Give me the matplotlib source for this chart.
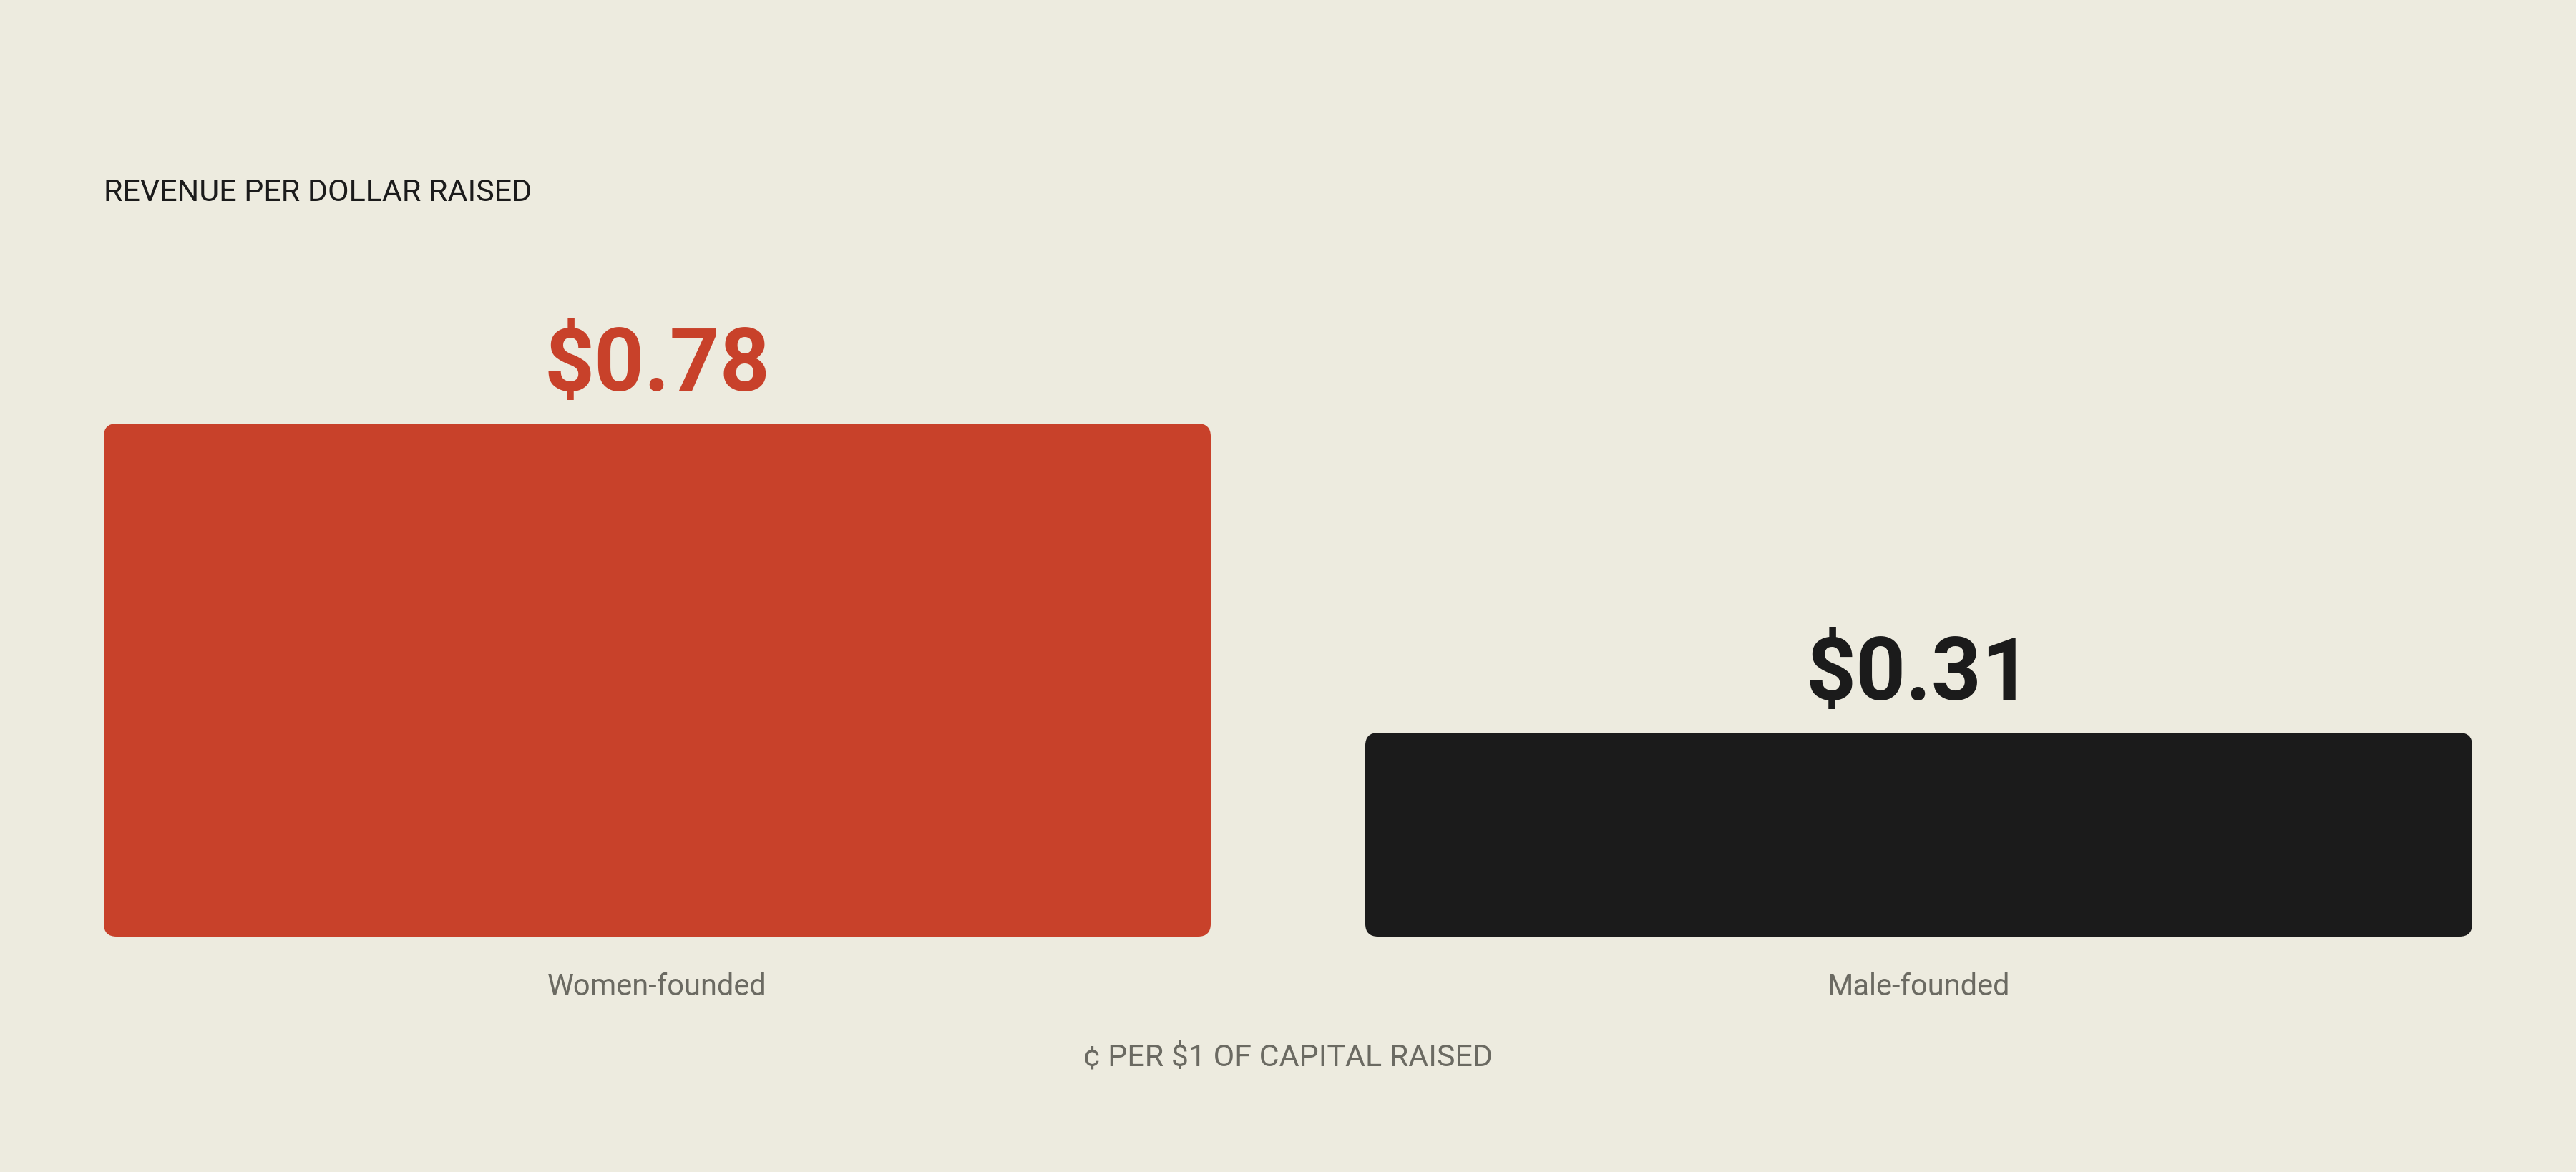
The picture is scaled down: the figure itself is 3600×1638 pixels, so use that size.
import matplotlib.pyplot as plt
from matplotlib.patches import FancyBboxPatch

categories = ['Women-founded', 'Male-founded']
values = [0.78, 0.31]
value_labels = ['$0.78', '$0.31']
bar_colors = ['#C8412A', '#1B1B1B']

bg = '#EDEBDF'
dark = '#1B1B1B'
grey = '#6B6A62'

plt.rcParams['font.family'] = ['Roboto', 'DejaVu Sans']

W, H = 3600, 1638
fig = plt.figure(figsize=(W / 100, H / 100), dpi=100, facecolor=bg)
ax = fig.add_axes([145 / W, (H - 1309) / H, (3455 - 145) / W, (1309 - 592) / H])
ax.set_facecolor(bg)

x = list(range(len(categories)))
width = 0.8775
bars = ax.bar(x, values, width=width, color=bar_colors)
ax.set_xlim(-width / 2, x[-1] + width / 2)
ax.set_ylim(0, max(values))

# swap plain rectangles for rounded ones
bbox = ax.get_window_extent()
px_x = bbox.width / (ax.get_xlim()[1] - ax.get_xlim()[0])
px_y = bbox.height / (ax.get_ylim()[1] - ax.get_ylim()[0])
radius = 18
for b in bars:
    b.set_visible(False)
    ax.add_patch(FancyBboxPatch((b.get_x(), b.get_y()), b.get_width(), b.get_height(),
                                boxstyle='round,pad=0,rounding_size=%f' % (radius / px_x),
                                mutation_aspect=px_x / px_y,
                                facecolor=b.get_facecolor(), edgecolor='none',
                                clip_on=False))

for xi, v, lab, c in zip(x, values, value_labels, bar_colors):
    ax.annotate(lab, (xi, v), xytext=(0, 33), textcoords='offset points',
                ha='center', va='baseline', fontsize=88, fontweight='bold',
                color=c, annotation_clip=False)

ax.set_xticks(x, categories)
ax.tick_params(axis='x', length=0, pad=36, labelsize=30, labelcolor=grey)
ax.set_yticks([])
for s in ax.spines.values():
    s.set_visible(False)

fig.text(145 / W, 1 - 281 / H, 'REVENUE PER DOLLAR RAISED', ha='left', va='baseline',
         fontsize=31, color=dark)
fig.text(0.5, 1 - 1489 / H, '¢ PER $1 OF CAPITAL RAISED', ha='center', va='baseline',
         fontsize=31, color=grey)

fig.savefig('out.png', dpi=100, facecolor=bg)
